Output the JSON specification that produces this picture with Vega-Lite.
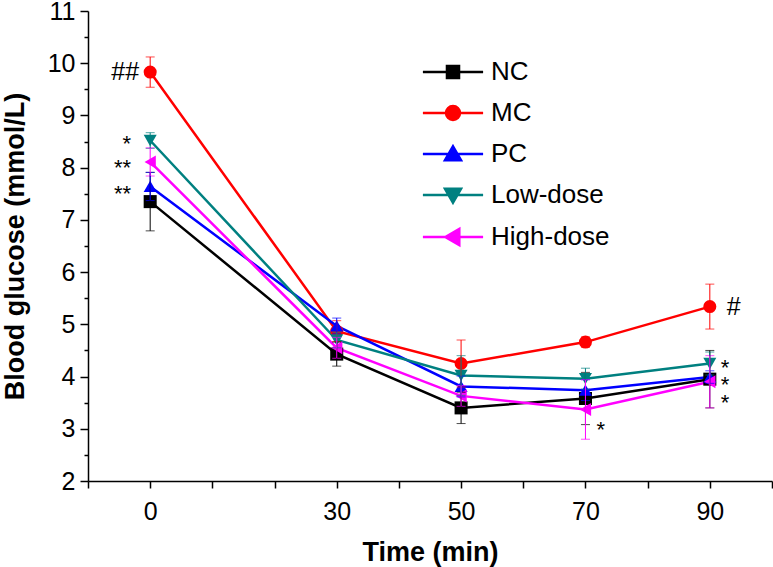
{
  "$schema": "https://vega.github.io/schema/vega-lite/v6.json",
  "width": 684,
  "height": 470,
  "autosize": {"type": "none"},
  "padding": {"left": 88, "top": 11, "right": 1, "bottom": 86},
  "background": "white",
  "config": {
    "view": {"stroke": null},
    "font": "Liberation Sans",
    "axis": {
      "domainColor": "black", "tickColor": "black", "labelColor": "black", "titleColor": "black",
      "domainWidth": 1.5, "tickWidth": 1.5, "grid": false,
      "labelFont": "Liberation Sans", "titleFont": "Liberation Sans"
    }
  },
  "datasets": {
    "glucose": [
      {"time": 0, "group": "NC", "glucose": 7.35, "sd": 0.56},
      {"time": 0, "group": "MC", "glucose": 9.83, "sd": 0.29},
      {"time": 0, "group": "PC", "glucose": 7.64, "sd": 0.27},
      {"time": 0, "group": "Low-dose", "glucose": 8.52, "sd": 0.15},
      {"time": 0, "group": "High-dose", "glucose": 8.11, "sd": 0.27},
      {"time": 30, "group": "NC", "glucose": 4.43, "sd": 0.23},
      {"time": 30, "group": "MC", "glucose": 4.87, "sd": 0.2},
      {"time": 30, "group": "PC", "glucose": 4.97, "sd": 0.15},
      {"time": 30, "group": "Low-dose", "glucose": 4.7, "sd": 0.15},
      {"time": 30, "group": "High-dose", "glucose": 4.55, "sd": 0.2},
      {"time": 50, "group": "NC", "glucose": 3.4, "sd": 0.3},
      {"time": 50, "group": "MC", "glucose": 4.25, "sd": 0.45},
      {"time": 50, "group": "PC", "glucose": 3.81, "sd": 0.2},
      {"time": 50, "group": "Low-dose", "glucose": 4.02, "sd": 0.38},
      {"time": 50, "group": "High-dose", "glucose": 3.63, "sd": 0.2},
      {"time": 70, "group": "NC", "glucose": 3.58, "sd": 0.5},
      {"time": 70, "group": "MC", "glucose": 4.66, "sd": 0.1},
      {"time": 70, "group": "PC", "glucose": 3.74, "sd": 0.2},
      {"time": 70, "group": "Low-dose", "glucose": 3.96, "sd": 0.2},
      {"time": 70, "group": "High-dose", "glucose": 3.37, "sd": 0.57},
      {"time": 90, "group": "NC", "glucose": 3.95, "sd": 0.55},
      {"time": 90, "group": "MC", "glucose": 5.34, "sd": 0.43},
      {"time": 90, "group": "PC", "glucose": 3.99, "sd": 0.12},
      {"time": 90, "group": "Low-dose", "glucose": 4.25, "sd": 0.22},
      {"time": 90, "group": "High-dose", "glucose": 3.9, "sd": 0.5}
    ],
    "notes": [
      {"label": "##", "time": 0, "glucose": 9.83},
      {"label": "*", "time": 0, "glucose": 8.57},
      {"label": "**", "time": 0, "glucose": 8.1},
      {"label": "**", "time": 0, "glucose": 7.61},
      {"label": "#", "time": 90, "glucose": 5.34},
      {"label": "*", "time": 90, "glucose": 4.28},
      {"label": "*", "time": 90, "glucose": 3.95},
      {"label": "*", "time": 90, "glucose": 3.6},
      {"label": "*", "time": 70, "glucose": 3.1}
    ]
  },
  "encoding": {
    "x": {
      "field": "time", "type": "quantitative",
      "scale": {"domain": [-10, 100], "nice": false, "zero": false},
      "axis": {
        "values": [-10, 0, 10, 20, 30, 40, 50, 60, 70, 80, 90, 100],
        "labelExpr": "(datum.value == 0 || datum.value == 30 || datum.value == 50 || datum.value == 70 || datum.value == 90) ? datum.label : ''",
        "tickSize": 7, "labelFontSize": 25, "labelPadding": 11,
        "labelFlush": false, "labelOverlap": false,
        "title": "Time (min)", "titleFontSize": 27, "titleFontWeight": "bold", "titlePadding": 15
      }
    }
  },
  "layer": [
    {
      "data": {"name": "glucose"},
      "mark": {"type": "line", "strokeWidth": 2.5},
      "encoding": {
        "y": {
          "field": "glucose", "type": "quantitative",
          "scale": {"domain": [2, 11], "nice": false, "zero": false},
          "axis": {
            "values": [2, 3, 4, 5, 6, 7, 8, 9, 10, 11],
            "tickSize": 8, "labelFontSize": 25, "labelPadding": 5,
            "title": "Blood glucose (mmol/L)", "titleFontSize": 27, "titleFontWeight": "bold", "titlePadding": 18
          }
        },
        "color": {
          "field": "group", "type": "nominal",
          "scale": {"domain": ["NC", "MC", "PC", "Low-dose", "High-dose"], "range": ["#000000", "#ff0000", "#0000ff", "#008080", "#ff00ff"]}
        }
      }
    },
    {
      "data": {"name": "glucose"},
      "mark": {"type": "point", "filled": true, "size": 170, "opacity": 1},
      "encoding": {
        "y": {
          "field": "glucose", "type": "quantitative",
          "axis": {
            "orient": "left", "values": [2.5, 3.5, 4.5, 5.5, 6.5, 7.5, 8.5, 9.5, 10.5],
            "tickSize": 4, "labels": false, "domain": false, "title": null
          }
        },
        "color": {"field": "group", "type": "nominal"},
        "shape": {
          "condition": [
            {"test": "datum.group == 'NC'", "value": "square"},
            {"test": "datum.group == 'MC'", "value": "circle"},
            {"test": "datum.group == 'PC'", "value": "triangle-up"},
            {"test": "datum.group == 'Low-dose'", "value": "triangle-down"}
          ],
          "value": "triangle-left"
        }
      }
    },
    {
      "data": {"name": "glucose"},
      "mark": {"type": "errorbar", "thickness": 1, "ticks": {"size": 9, "thickness": 1}},
      "encoding": {
        "y": {"field": "glucose", "type": "quantitative", "axis": null},
        "yError": {"field": "sd"},
        "color": {"field": "group", "type": "nominal"}
      }
    },
    {
      "data": {"name": "glucose"},
      "transform": [{"filter": "false"}],
      "mark": {"type": "point", "filled": true, "size": 196, "strokeWidth": 2.5},
      "encoding": {
        "y": {"field": "glucose", "type": "quantitative", "axis": null},
        "color": {
          "field": "group", "type": "nominal",
          "legend": {
            "orient": "none", "legendX": 352, "legendY": 48, "title": null, "padding": 0,
            "labelFont": "Liberation Sans", "labelFontSize": 26, "labelColor": "black",
            "labelOffset": 25, "rowPadding": 15, "symbolSize": 196, "symbolStrokeWidth": 2.5, "symbolOpacity": 1
          }
        },
        "shape": {
          "field": "group", "type": "nominal",
          "scale": {
            "domain": ["NC", "MC", "PC", "Low-dose", "High-dose"],
            "range": [
              "M-4.3,0H4.3M-0.86,-0.86H0.86V0.86H-0.86Z",
              "M-4.3,0H4.3M1,0A1,1,0,1,1,-1,0A1,1,0,1,1,1,0Z",
              "M-4.3,0H4.3M0,-1.1L1.15,0.9L-1.15,0.9Z",
              "M-4.3,0H4.3M0,1.1L1.15,-0.9L-1.15,-0.9Z",
              "M-4.3,0H4.3M-1.1,0L0.9,-1.15L0.9,1.15Z"
            ]
          },
          "legend": {
            "orient": "none", "legendX": 352, "legendY": 48, "title": null, "padding": 0,
            "labelFont": "Liberation Sans", "labelFontSize": 26, "labelColor": "black",
            "labelOffset": 25, "rowPadding": 15, "symbolSize": 196, "symbolStrokeWidth": 2.5, "symbolOpacity": 1
          }
        }
      }
    },
    {
      "data": {"name": "notes"},
      "transform": [{"filter": "datum.label == '##'"}],
      "mark": {"type": "text", "align": "right", "baseline": "middle", "dx": -11, "fontSize": 25, "font": "Liberation Sans", "color": "black"},
      "encoding": {
        "y": {"field": "glucose", "type": "quantitative", "axis": null},
        "text": {"field": "label"}
      }
    },
    {
      "data": {"name": "notes"},
      "transform": [{"filter": "datum.time == 0 && datum.label != '##'"}],
      "mark": {"type": "text", "align": "right", "baseline": "middle", "dx": -19, "dy": 6, "fontSize": 22, "font": "Liberation Sans", "color": "black"},
      "encoding": {
        "y": {"field": "glucose", "type": "quantitative", "axis": null},
        "text": {"field": "label"}
      }
    },
    {
      "data": {"name": "notes"},
      "transform": [{"filter": "datum.label == '#'"}],
      "mark": {"type": "text", "align": "left", "baseline": "middle", "dx": 17, "fontSize": 25, "font": "Liberation Sans", "color": "black"},
      "encoding": {
        "y": {"field": "glucose", "type": "quantitative", "axis": null},
        "text": {"field": "label"}
      }
    },
    {
      "data": {"name": "notes"},
      "transform": [{"filter": "datum.time > 0 && datum.label == '*'"}],
      "mark": {"type": "text", "align": "left", "baseline": "middle", "dx": 11, "dy": 6, "fontSize": 22, "font": "Liberation Sans", "color": "black"},
      "encoding": {
        "y": {"field": "glucose", "type": "quantitative", "axis": null},
        "text": {"field": "label"}
      }
    }
  ],
  "resolve": {"axis": {"y": "independent"}}
}
